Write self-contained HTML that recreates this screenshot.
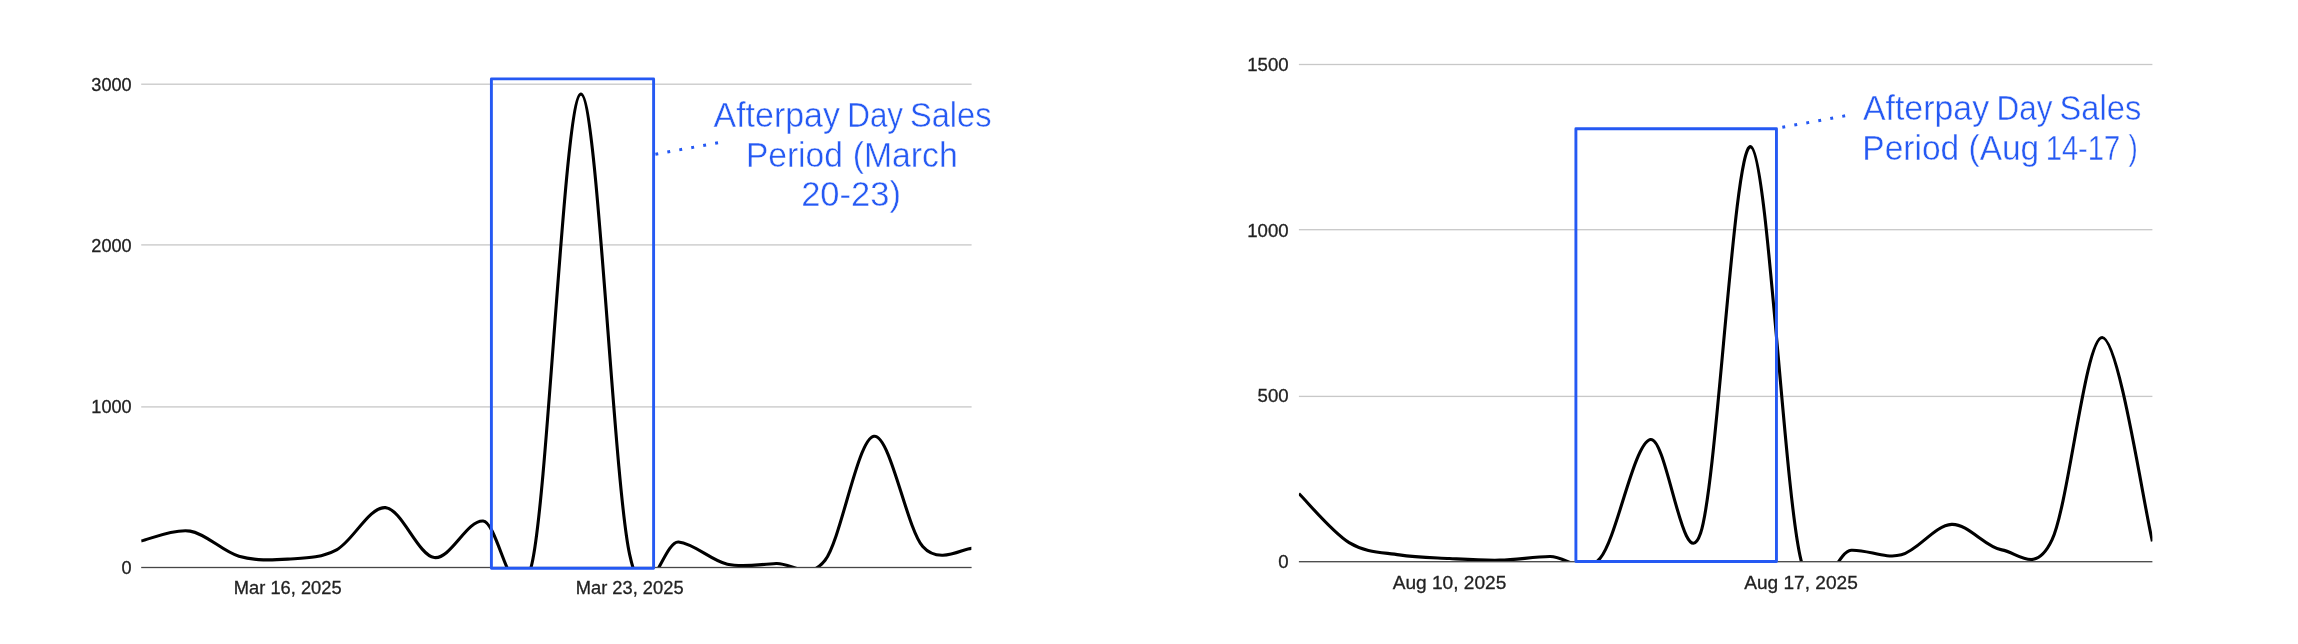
<!DOCTYPE html>
<html><head><meta charset="utf-8"><style>
html,body{margin:0;padding:0;background:#fff;width:2298px;height:644px;overflow:hidden}
.wrap{will-change:transform;width:2298px;height:644px;filter:blur(0.45px)}
svg{display:block}
.ax{font-family:"Liberation Sans",sans-serif;fill:#222;stroke:#222;stroke-width:0.3px}
.an{font-family:"Liberation Sans",sans-serif;fill:#2559f3;font-size:34.5px;stroke:#fff;stroke-width:0.4px}
</style></head><body><div class="wrap">
<svg width="2298" height="644" viewBox="0 0 2298 644">
<rect width="2298" height="644" fill="#fff"/>
<rect x="141.2" y="83.55" width="830.4" height="1.3" fill="#c8c8c8"/>
<text transform="translate(131.60,90.52) scale(0.995,1.0)" text-anchor="end" class="ax" style="font-size:18.2px">3000</text>
<rect x="141.2" y="244.25" width="830.4" height="1.3" fill="#c8c8c8"/>
<text transform="translate(131.60,251.67) scale(0.995,1.0)" text-anchor="end" class="ax" style="font-size:18.2px">2000</text>
<rect x="141.2" y="406.25" width="830.4" height="1.3" fill="#c8c8c8"/>
<text transform="translate(131.60,412.52) scale(0.995,1.0)" text-anchor="end" class="ax" style="font-size:18.2px">1000</text>
<text transform="translate(131.60,573.77) scale(0.995,1.0)" text-anchor="end" class="ax" style="font-size:18.2px">0</text>
<text transform="translate(287.74,594.40) scale(0.995,1.0)" text-anchor="middle" class="ax" style="font-size:18.4px">Mar 16, 2025</text>
<text transform="translate(629.67,594.40) scale(0.995,1.0)" text-anchor="middle" class="ax" style="font-size:18.4px">Mar 23, 2025</text>
<clipPath id="cl"><rect x="141.2" y="0" width="830.4" height="567.50"/></clipPath>
<path d="M141.20,540.93 C149.34,539.30 173.76,528.56 190.05,531.11 C206.33,533.66 222.61,551.56 238.89,556.23 C255.18,560.90 271.46,560.20 287.74,559.13 C304.02,558.05 320.31,558.38 336.59,549.79 C352.87,541.20 369.15,506.32 385.44,507.61 C401.72,508.90 418.00,555.29 434.28,557.52 C450.56,559.75 466.85,519.98 483.13,520.97 C499.41,521.96 515.69,634.61 531.98,563.48 C548.26,492.34 564.54,95.64 580.82,94.16 C597.11,92.68 613.39,479.97 629.67,554.62 C645.95,629.27 662.24,540.45 678.52,542.06 C694.80,543.67 711.08,560.71 727.36,564.28 C743.65,567.85 759.93,564.15 776.21,563.48 C792.49,562.80 808.78,581.45 825.06,560.25 C841.34,539.06 857.62,438.57 873.91,436.28 C890.19,434.00 906.47,527.89 922.75,546.57 C939.04,565.25 963.46,548.05 971.60,548.34" fill="none" stroke="#000" stroke-width="3.1" clip-path="url(#cl)"/>
<rect x="141.2" y="566.85" width="830.4" height="1.3" fill="#464646"/>
<rect x="1298.9" y="63.85" width="853.5" height="1.3" fill="#c8c8c8"/>
<text transform="translate(1288.60,70.94) scale(0.995,1.0)" text-anchor="end" class="ax" style="font-size:18.7px">1500</text>
<rect x="1298.9" y="229.05" width="853.5" height="1.3" fill="#c8c8c8"/>
<text transform="translate(1288.60,236.84) scale(0.995,1.0)" text-anchor="end" class="ax" style="font-size:18.7px">1000</text>
<rect x="1298.9" y="395.75" width="853.5" height="1.3" fill="#c8c8c8"/>
<text transform="translate(1288.60,401.89) scale(0.995,1.0)" text-anchor="end" class="ax" style="font-size:18.7px">500</text>
<text transform="translate(1288.60,567.99) scale(0.995,1.0)" text-anchor="end" class="ax" style="font-size:18.7px">0</text>
<text transform="translate(1449.52,589.20) scale(0.995,1.0)" text-anchor="middle" class="ax" style="font-size:19.2px">Aug 10, 2025</text>
<text transform="translate(1800.96,589.20) scale(0.995,1.0)" text-anchor="middle" class="ax" style="font-size:19.2px">Aug 17, 2025</text>
<clipPath id="cr"><rect x="1298.9" y="0" width="853.5" height="561.50"/></clipPath>
<path d="M1298.90,493.58 C1307.27,501.75 1332.37,532.40 1349.11,542.61 C1365.84,552.83 1382.58,552.22 1399.31,554.87 C1416.05,557.52 1432.78,557.63 1449.52,558.52 C1466.25,559.40 1482.99,560.51 1499.72,560.17 C1516.46,559.84 1533.19,556.86 1549.93,556.53 C1566.66,556.20 1583.40,577.68 1600.14,558.19 C1616.87,538.69 1633.61,443.71 1650.34,439.57 C1667.08,435.43 1683.81,582.15 1700.55,533.34 C1717.28,484.52 1734.02,142.25 1750.75,146.67 C1767.49,151.09 1784.22,492.58 1800.96,559.84 C1817.69,627.10 1834.43,551.06 1851.16,550.23 C1867.90,549.41 1884.64,559.18 1901.37,554.87 C1918.11,550.57 1934.84,525.22 1951.58,524.39 C1968.31,523.56 1985.05,547.31 2001.78,549.90 C2018.52,552.50 2035.25,575.36 2051.99,539.96 C2068.72,504.57 2085.46,337.30 2102.19,337.52 C2118.93,337.74 2144.03,507.33 2152.40,541.29" fill="none" stroke="#000" stroke-width="3.1" clip-path="url(#cr)"/>
<rect x="1298.9" y="561.05" width="853.5" height="1.3" fill="#464646"/>
<rect x="491.4" y="78.9" width="162.2" height="489.3" fill="none" stroke="#2559f3" stroke-width="2.9" stroke-linejoin="round"/>
<rect x="1575.9" y="128.8" width="200.55" height="432.7" fill="none" stroke="#2559f3" stroke-width="2.9" stroke-linejoin="round"/>
<line x1="655.37" y1="154.26" x2="718.03" y2="142.74" stroke="#2559f3" stroke-width="3.0" stroke-dasharray="2.9 9.261"/>
<line x1="1782.32" y1="127.26" x2="1845.13" y2="115.84" stroke="#2559f3" stroke-width="3.0" stroke-dasharray="2.9 9.287"/>
<text x="713.60" y="127.40" textLength="126.24" lengthAdjust="spacingAndGlyphs" class="an">Afterpay</text>
<text x="847.21" y="127.40" textLength="55.84" lengthAdjust="spacingAndGlyphs" class="an">Day</text>
<text x="909.98" y="127.40" textLength="81.54" lengthAdjust="spacingAndGlyphs" class="an">Sales</text>
<text x="745.92" y="166.60" textLength="96.90" lengthAdjust="spacingAndGlyphs" class="an">Period</text>
<text x="852.68" y="166.60" textLength="104.99" lengthAdjust="spacingAndGlyphs" class="an">(March</text>
<text x="801.18" y="205.90" textLength="99.72" lengthAdjust="spacingAndGlyphs" class="an">20-23)</text>
<text x="1862.90" y="120.40" textLength="126.24" lengthAdjust="spacingAndGlyphs" class="an">Afterpay</text>
<text x="1996.51" y="120.40" textLength="55.84" lengthAdjust="spacingAndGlyphs" class="an">Day</text>
<text x="2059.58" y="120.40" textLength="81.64" lengthAdjust="spacingAndGlyphs" class="an">Sales</text>
<text x="1862.32" y="159.70" textLength="96.90" lengthAdjust="spacingAndGlyphs" class="an">Period</text>
<text x="1968.50" y="159.70" textLength="70.68" lengthAdjust="spacingAndGlyphs" class="an">(Aug</text>
<text x="2045.70" y="159.70" textLength="74.45" lengthAdjust="spacingAndGlyphs" class="an">14-17</text>
<text x="2128.46" y="159.70" textLength="9.25" lengthAdjust="spacingAndGlyphs" class="an">)</text>
</svg>
</div></body></html>
